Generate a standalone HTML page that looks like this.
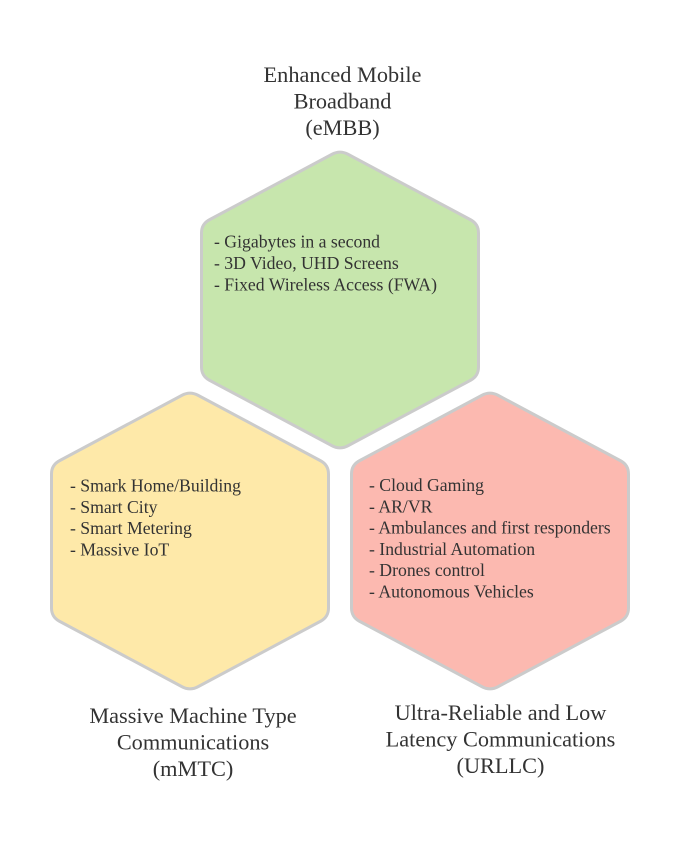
<!DOCTYPE html>
<html>
<head>
<meta charset="utf-8">
<style>
  html, body { margin: 0; padding: 0; background: #ffffff; }
  body { width: 680px; height: 848px; overflow: hidden; }
  svg { display: block; }
  .t { font-family: "Liberation Serif", serif; fill: #333333; }
  .title { font-size: 22.3px; text-anchor: middle; }
  .body { font-size: 17.7px; }
</style>
</head>
<body>
<svg width="680" height="848" viewBox="0 0 680 848" xmlns="http://www.w3.org/2000/svg">
  <rect width="680" height="848" fill="#ffffff"/>
  <defs>
    <path id="hex" d="M -7.94,-145.76 Q 0,-150 7.94,-145.76 L 130.56,-80.24 Q 138.5,-76 138.5,-67 L 138.5,67 Q 138.5,76 130.56,80.24 L 7.94,145.76 Q 0,150 -7.94,145.76 L -130.56,80.24 Q -138.5,76 -138.5,67 L -138.5,-67 Q -138.5,-76 -130.56,-80.24 Z"/>
  </defs>

  <!-- Green hex (eMBB) -->
  <g transform="translate(340,300)">
    <use href="#hex" fill="#c7e6ad" stroke="#cbcbcb" stroke-width="3" stroke-linejoin="round"/>
  </g>
  <!-- Yellow hex (mMTC) -->
  <g transform="translate(190,541)">
    <use href="#hex" fill="#fee9a9" stroke="#cbcbcb" stroke-width="3" stroke-linejoin="round"/>
  </g>
  <!-- Red hex (URLLC) -->
  <g transform="translate(490,541)">
    <use href="#hex" fill="#fcb9b0" stroke="#cbcbcb" stroke-width="3" stroke-linejoin="round"/>
  </g>

  <!-- Top title -->
  <text class="t title" x="342.5" y="82">Enhanced Mobile</text>
  <text class="t title" x="342.5" y="108.5">Broadband</text>
  <text class="t title" x="342.5" y="135">(eMBB)</text>

  <!-- Green content -->
  <text class="t body" x="214" y="247.5">- Gigabytes in a second</text>
  <text class="t body" x="214" y="269">- 3D Video, UHD Screens</text>
  <text class="t body" x="214" y="290.5">- Fixed Wireless Access (FWA)</text>

  <!-- Yellow content -->
  <text class="t body" x="70" y="491.5">- Smark Home/Building</text>
  <text class="t body" x="70" y="512.8">- Smart City</text>
  <text class="t body" x="70" y="534.1">- Smart Metering</text>
  <text class="t body" x="70" y="555.4">- Massive IoT</text>

  <!-- Red content -->
  <text class="t body" x="369" y="491">- Cloud Gaming</text>
  <text class="t body" x="369" y="512.3">- AR/VR</text>
  <text class="t body" x="369" y="533.6">- Ambulances and first responders</text>
  <text class="t body" x="369" y="554.9">- Industrial Automation</text>
  <text class="t body" x="369" y="576.2">- Drones control</text>
  <text class="t body" x="369" y="597.5">- Autonomous Vehicles</text>

  <!-- Bottom-left title -->
  <text class="t title" x="193" y="723">Massive Machine Type</text>
  <text class="t title" x="193" y="749.5">Communications</text>
  <text class="t title" x="193" y="776">(mMTC)</text>

  <!-- Bottom-right title -->
  <text class="t title" x="500.5" y="720">Ultra-Reliable and Low</text>
  <text class="t title" x="500.5" y="746.5">Latency Communications</text>
  <text class="t title" x="500.5" y="773">(URLLC)</text>
</svg>
</body>
</html>
